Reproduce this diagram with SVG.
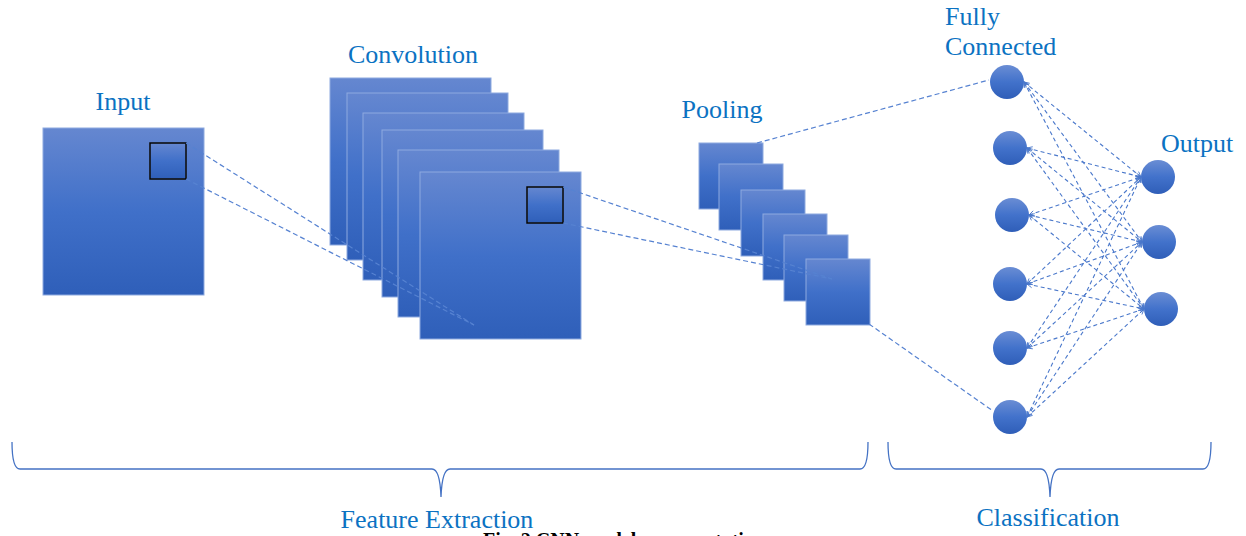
<svg xmlns="http://www.w3.org/2000/svg" width="1246" height="536" viewBox="0 0 1246 536">
  <defs>
    <linearGradient id="sqFill" x1="0" y1="0" x2="0" y2="1">
      <stop offset="0" stop-color="#6587d0"/>
      <stop offset="0.5" stop-color="#4070c9"/>
      <stop offset="1" stop-color="#2f5fb9"/>
    </linearGradient>
    <linearGradient id="dotFill" x1="0" y1="0" x2="0" y2="1">
      <stop offset="0" stop-color="#6a8dd4"/>
      <stop offset="0.5" stop-color="#4272cb"/>
      <stop offset="1" stop-color="#2f5eb8"/>
    </linearGradient>
    <marker id="tip" viewBox="0 0 8 8" refX="7" refY="4" markerWidth="7" markerHeight="7" markerUnits="userSpaceOnUse" orient="auto-start-reverse">
      <path d="M1,1 L7,4 L1,7" fill="none" stroke="#4a78cb" stroke-width="1"/>
    </marker>
    <style>
      .lbl { font-family: "Liberation Serif", "Times New Roman", serif; font-size: 26px; fill: #0b72c2; }
      .cap { font-family: "Liberation Serif", "Times New Roman", serif; font-size: 20px; font-weight: bold; fill: #000; }
      .sq { fill: url(#sqFill); stroke: #8eaadf; stroke-width: 1; }
      .win { fill: none; stroke: #000; stroke-width: 1.5; }
      .dot { fill: url(#dotFill); }
      .dash { fill: none; stroke: #5682d1; stroke-width: 1.2; stroke-dasharray: 5 3; }
      .fc { fill: none; stroke: #4a78cb; stroke-width: 1.1; stroke-dasharray: 4 3; marker-start: url(#tip); marker-end: url(#tip); }
      .brace { fill: none; stroke: #4472c4; stroke-width: 1.3; }
    </style>
  </defs>

  <!-- input image with its receptive window -->
  <g id="input">
    <rect class="sq" x="43" y="128" width="161" height="167"/>
    <rect class="sq" x="150" y="143" width="36" height="36" stroke="none"/>
    <rect class="win" x="150" y="143" width="36" height="36"/>
    <text class="lbl" x="123" y="110" text-anchor="middle">Input</text>
  </g>

  <!-- stack of convolution feature maps -->
  <g id="convolution">
    <rect class="sq" x="330" y="78" width="161" height="167"/>
    <rect class="sq" x="347" y="93" width="161" height="167"/>
    <rect class="sq" x="363" y="113" width="161" height="167"/>
    <rect class="sq" x="382" y="130" width="161" height="167"/>
    <rect class="sq" x="398" y="150" width="161" height="167"/>
    <rect class="sq" x="420" y="172" width="161" height="167"/>
    <rect class="sq" x="527" y="187" width="36" height="36" stroke="none"/>
    <rect class="win" x="527" y="187" width="36" height="36"/>
    <text class="lbl" x="413" y="63" text-anchor="middle">Convolution</text>
  </g>

  <!-- stack of pooled maps -->
  <g id="pooling">
    <rect class="sq" x="699" y="143" width="64" height="66"/>
    <rect class="sq" x="719" y="164" width="64" height="66"/>
    <rect class="sq" x="741" y="190" width="64" height="66"/>
    <rect class="sq" x="763" y="214" width="64" height="66"/>
    <rect class="sq" x="784" y="235" width="64" height="66"/>
    <rect class="sq" x="806" y="259" width="64" height="66"/>
    <text class="lbl" x="722" y="118" text-anchor="middle">Pooling</text>
  </g>

  <!-- fully connected layer -->
  <g id="fully-connected">
    <circle class="dot" cx="1007" cy="82" r="17"/>
    <circle class="dot" cx="1010" cy="148" r="17"/>
    <circle class="dot" cx="1012" cy="215" r="17"/>
    <circle class="dot" cx="1010" cy="284" r="17"/>
    <circle class="dot" cx="1010" cy="348" r="17"/>
    <circle class="dot" cx="1010" cy="417" r="17"/>
    <text class="lbl" x="945" y="25">Fully</text>
    <text class="lbl" x="945" y="55">Connected</text>
  </g>

  <!-- output layer -->
  <g id="output">
    <circle class="dot" cx="1158" cy="177" r="17"/>
    <circle class="dot" cx="1159" cy="242" r="17"/>
    <circle class="dot" cx="1161" cy="309" r="17"/>
    <text class="lbl" x="1161" y="152">Output</text>
  </g>

  <!-- projections between stages and dense links -->
  <g id="connectors">
    <line class="dash" x1="186" y1="143" x2="474" y2="325"/>
    <line class="dash" x1="186" y1="179" x2="474" y2="325"/>
    <line class="dash" x1="563" y1="187" x2="832" y2="279"/>
    <line class="dash" x1="563" y1="223" x2="832" y2="279"/>
    <line class="dash" x1="757" y1="143" x2="989" y2="80"/>
    <line class="dash" x1="869" y1="324" x2="993" y2="411"/>

    <line class="fc" x1="1024" y1="82" x2="1141" y2="177"/>
    <line class="fc" x1="1024" y1="82" x2="1142" y2="242"/>
    <line class="fc" x1="1024" y1="82" x2="1144" y2="309"/>
    <line class="fc" x1="1027" y1="148" x2="1141" y2="177"/>
    <line class="fc" x1="1027" y1="148" x2="1142" y2="242"/>
    <line class="fc" x1="1027" y1="148" x2="1144" y2="309"/>
    <line class="fc" x1="1029" y1="215" x2="1141" y2="177"/>
    <line class="fc" x1="1029" y1="215" x2="1142" y2="242"/>
    <line class="fc" x1="1029" y1="215" x2="1144" y2="309"/>
    <line class="fc" x1="1027" y1="284" x2="1141" y2="177"/>
    <line class="fc" x1="1027" y1="284" x2="1142" y2="242"/>
    <line class="fc" x1="1027" y1="284" x2="1144" y2="309"/>
    <line class="fc" x1="1027" y1="348" x2="1141" y2="177"/>
    <line class="fc" x1="1027" y1="348" x2="1142" y2="242"/>
    <line class="fc" x1="1027" y1="348" x2="1144" y2="309"/>
    <line class="fc" x1="1027" y1="417" x2="1141" y2="177"/>
    <line class="fc" x1="1027" y1="417" x2="1142" y2="242"/>
    <line class="fc" x1="1027" y1="417" x2="1144" y2="309"/>
  </g>

  <!-- grouping braces -->
  <g id="feature-extraction">
    <path class="brace" d="M12,442 Q12,469 20,469 L432,469 Q440,469 441,497 Q442,469 450,469 L860,469 Q868,469 868,442"/>
    <text class="lbl" x="437" y="528" text-anchor="middle">Feature Extraction</text>
  </g>
  <g id="classification">
    <path class="brace" d="M888,442 Q888,469 896,469 L1041,469 Q1049,469 1050,497 Q1051,469 1059,469 L1203,469 Q1211,469 1211,442"/>
    <text class="lbl" x="1048" y="526" text-anchor="middle">Classification</text>
  </g>

  <g id="caption">
    <text class="cap" x="483" y="547">Fig. 2 CNN model representation</text>
  </g>
</svg>
